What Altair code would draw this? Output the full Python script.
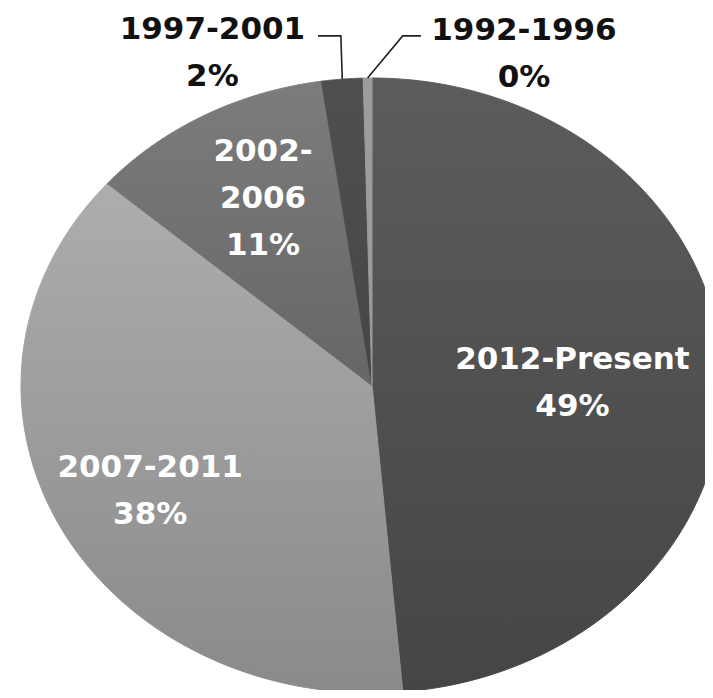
import math
import altair as alt
import pandas as pd

# ---------------- data ----------------
periods = ["2012-Present", "2007-2011", "2002-2006", "1997-2001", "1992-1996"]
shares = [48.6, 37.8, 11.3, 1.9, 0.4]          # percent
label_names = ["2012-Present", "2007-2011", "2002-\n2006", "1997-2001", "1992-1996"]

# ---------------- layout / style ----------------
W, H = 697, 682
CX, CY = 364, 377.5          # pie centre inside the view (px)
RX, RY = 351, 307.5          # the pie is drawn as an ellipse (stretched picture)
N = 160                      # arc resolution
LINE_H = 47
FONT_SIZE = 31

top_colors = ["#5c5c5c", "#adadad", "#7c7c7c", "#4f4f4f", "#9d9d9d"]
bottom_colors = ["#454545", "#8a8a8a", "#666666", "#464646", "#9a9a9a"]

# label placement: radius (fraction of pie radius) and angular shift (deg) from slice mid-angle
LABEL_R = [0.571, 0.7205, 0.681, 1.1705, 1.1617]
LABEL_DTHETA = [1.8, -1.7, 1.5, -18.0, 22.6]
LABEL_COLOR = ["#ffffff", "#ffffff", "#ffffff", "#111111", "#111111"]
OUTSIDE = [False, False, False, True, True]
# leader lines for outside labels (unit coords relative to slice edge point)
LEADER_V = 1.137
LEADER_ELBOW_DU = {"1997-2001": -0.004, "1992-1996": 0.100}
LEADER_END_DU = {"1997-2001": -0.069, "1992-1996": 0.152}

xs = alt.Scale(domain=[-1, 1], range=[CX - RX, CX + RX])
ys = alt.Scale(domain=[-1, 1], range=[CY + RY, CY - RY])

df = pd.DataFrame({"period": periods, "share": shares, "k": list(range(len(periods)))})

base = (
    alt.Chart(df)
    .transform_window(cum="sum(share)", sort=[alt.SortField("k")])
    .transform_joinaggregate(total="sum(share)")
    .transform_calculate(
        a0="2*PI*(datum.cum - datum.share)/datum.total",
        a1="2*PI*datum.cum/datum.total",
    )
)

wedges = (
    base.transform_calculate(i=f"sequence(-1, {N + 2})")
    .transform_flatten(["i"])
    .transform_calculate(
        t=f"clamp(datum.i, 0, {N})/{N}",
        rr=f"(datum.i < 0 || datum.i > {N}) ? 0 : 1",
    )
    .transform_calculate(ang="datum.a0 + (datum.a1 - datum.a0)*datum.t")
    .transform_calculate(u="datum.rr*sin(datum.ang)", v="datum.rr*cos(datum.ang)")
)

layers = []
for k, p in enumerate(periods):
    grad = alt.Gradient(
        gradient="linear",
        stops=[
            alt.GradientStop(color=top_colors[k], offset=0),
            alt.GradientStop(color=bottom_colors[k], offset=1),
        ],
        x1=0, x2=0, y1=0, y2=1,
    )
    layers.append(
        wedges.transform_filter(alt.datum.period == p)
        .mark_line(fill=grad, stroke=grad, strokeWidth=1)
        .encode(
            x=alt.X("u:Q", scale=xs, axis=None),
            y=alt.Y("v:Q", scale=ys, axis=None),
            order=alt.Order("i:Q"),
        )
    )

# labels, computed from the data arrays
total = sum(shares)
rows, leaders = [], []
cum = 0.0
for k, p in enumerate(periods):
    mid = (cum + shares[k] / 2) / total * 360.0
    cum += shares[k]
    th = math.radians(mid + LABEL_DTHETA[k])
    txt = f"{label_names[k]}\n{round(shares[k])}%"
    n_lines = txt.count("\n") + 1
    # anchor = first line; shift up so the text block is centred on the target point
    v_block = LABEL_R[k] * math.cos(th)
    rows.append({
        "period": p,
        "text": txt,
        "u": LABEL_R[k] * math.sin(th),
        "v": v_block + (n_lines - 1) * LINE_H / 2 / RY,
        "col": LABEL_COLOR[k],
    })
    if OUTSIDE[k]:
        eu, ev = math.sin(math.radians(mid)), math.cos(math.radians(mid))
        leaders += [
            {"period": p, "s": 0, "u": eu, "v": ev},
            {"period": p, "s": 1, "u": eu + LEADER_ELBOW_DU[p], "v": LEADER_V},
            {"period": p, "s": 2, "u": eu + LEADER_END_DU[p], "v": LEADER_V},
        ]

lab_df = pd.DataFrame(rows)
lead_df = pd.DataFrame(leaders)

text = (
    alt.Chart(lab_df)
    .mark_text(
        font="DejaVu Sans", fontWeight="bold", fontSize=FONT_SIZE, lineHeight=LINE_H,
        lineBreak="\n", align="center", baseline="middle",
    )
    .encode(
        x=alt.X("u:Q", scale=xs, axis=None),
        y=alt.Y("v:Q", scale=ys, axis=None),
        text="text:N",
        color=alt.Color("col:N", scale=None),
    )
)

lead = (
    alt.Chart(lead_df)
    .mark_line(color="#222222", strokeWidth=1.6)
    .encode(
        x=alt.X("u:Q", scale=xs, axis=None),
        y=alt.Y("v:Q", scale=ys, axis=None),
        detail="period:N",
        order=alt.Order("s:Q"),
    )
)

chart = (
    alt.layer(*layers, lead, text)
    .properties(width=W, height=H, autosize=alt.AutoSizeParams(type="none"), padding=0)
    .configure_view(stroke=None)
)

chart.save("out.html", embed_options={"renderer": "svg", "actions": False})
